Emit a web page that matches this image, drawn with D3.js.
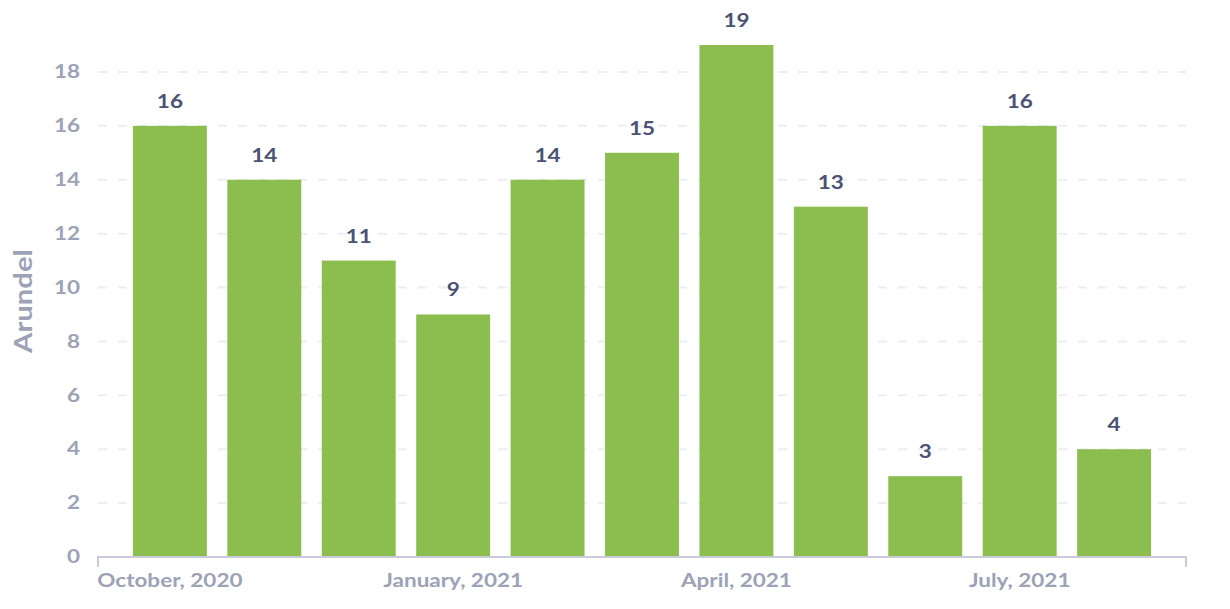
<!DOCTYPE html>
<html>
<head>
<meta charset="utf-8">
<script src="https://cdn.jsdelivr.net/npm/d3@7"></script>
<style>
  html, body { margin: 0; padding: 0; background: #ffffff; }
  svg { display: block; font-family: Lato, "Open Sans", sans-serif; }
</style>
</head>
<body>
<svg id="chart" width="1230" height="609"></svg>
<script>
// Monthly counts for Arundel
const months = ["2020-10", "2020-11", "2020-12", "2021-01", "2021-02", "2021-03",
                "2021-04", "2021-05", "2021-06", "2021-07", "2021-08"];
const counts = [16, 14, 11, 9, 14, 15, 19, 13, 3, 16, 4];
const yTicks = [0, 2, 4, 6, 8, 10, 12, 14, 16, 18];
const xTickMonths = ["2020-10", "2021-01", "2021-04", "2021-07"];
const xTickLabels = ["October, 2020", "January, 2021", "April, 2021", "July, 2021"];
const yTitle = "Arundel";

const svg = d3.select("#chart");
const plot = { left: 98, right: 1186, top: 45, bottom: 557 };
const stretch = 1.25;   // wide lettering used throughout the chart
const fontSize = 18;
const muted = "#9da2b7";

const x = d3.scaleBand().domain(months).range([plot.left, plot.right])
  .paddingInner(0.217).paddingOuter(0.37);
const y = d3.scaleLinear().domain([0, 19]).range([plot.bottom, plot.top]);

// dashed horizontal grid
svg.append("g").selectAll("line").data(yTicks.filter(d => d > 0)).join("line")
  .attr("x1", plot.left).attr("x2", plot.right)
  .attr("y1", d => y(d)).attr("y2", d => y(d))
  .attr("stroke", "#eceef2").attr("stroke-width", 2)
  .attr("stroke-dasharray", "9,11");

// y axis labels
const yAxis = svg.append("g").attr("transform", `translate(${plot.left},0)`)
  .call(d3.axisLeft(y).tickValues(yTicks).tickSize(0).tickPadding(0));
yAxis.select(".domain").remove();
yAxis.selectAll("text")
  .attr("x", 0)
  .attr("transform", `translate(-18,0) scale(${stretch},1)`)
  .attr("fill", muted).attr("font-size", fontSize).attr("font-weight", 700)
  .attr("font-family", "Lato, sans-serif");

// y title
svg.append("text")
  .attr("transform", `translate(32,${301}) rotate(-90) scale(1.22,1)`)
  .attr("text-anchor", "middle")
  .attr("fill", muted).attr("font-size", 24).attr("font-weight", 700)
  .attr("font-family", "Lato, sans-serif")
  .text(yTitle);

// bars
svg.append("g").selectAll("rect").data(months).join("rect")
  .attr("x", d => x(d)).attr("width", x.bandwidth())
  .attr("y", (d, i) => y(counts[i]))
  .attr("height", (d, i) => y(0) - y(counts[i]))
  .attr("fill", "#8bbe4f");

// value labels
svg.append("g").selectAll("text").data(months).join("text")
  .attr("transform", (d, i) =>
    `translate(${x(d) + x.bandwidth() / 2},${y(counts[i]) - 18}) scale(${stretch},1)`)
  .attr("text-anchor", "middle")
  .attr("fill", "#4b5273").attr("font-size", fontSize).attr("font-weight", 700)
  .attr("font-family", "Lato, sans-serif")
  .text((d, i) => counts[i]);

// x axis
const xAxis = svg.append("g").attr("transform", `translate(0,${plot.bottom})`)
  .call(d3.axisBottom(x).tickValues(xTickMonths).tickSize(0).tickPadding(17)
    .tickFormat(d => xTickLabels[xTickMonths.indexOf(d)]));
xAxis.select(".domain")
  .attr("d", `M${plot.left},10V0H${plot.right}V10`)
  .attr("stroke", "#c9ccd8").attr("stroke-width", 2).attr("fill", "none");
xAxis.selectAll("text")
  .attr("transform", `scale(${stretch},1)`)
  .attr("fill", muted).attr("font-size", fontSize).attr("font-weight", 700)
  .attr("font-family", "Lato, sans-serif");
</script>
</body>
</html>
